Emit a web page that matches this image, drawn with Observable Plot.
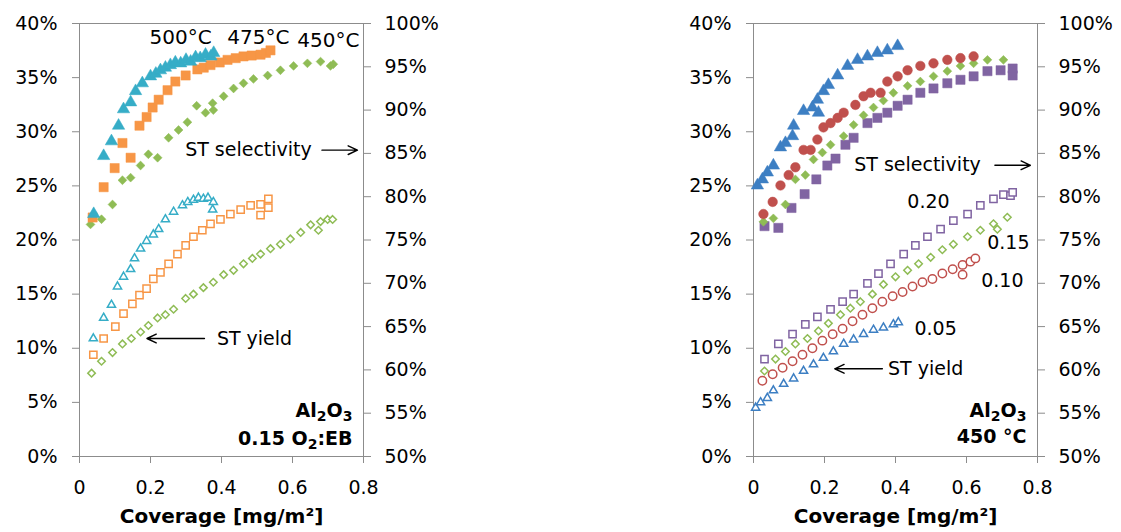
<!DOCTYPE html>
<html>
<head>
<meta charset="utf-8">
<script src="https://cdn.jsdelivr.net/npm/d3@7"></script>
<script src="https://cdn.jsdelivr.net/npm/@observablehq/plot@0.6"></script>
<style>
  html, body { margin: 0; padding: 0; background: #fff; }
  #wrap { display: flex; width: 1121px; height: 532px; }
  svg { display: block; }
</style>
</head>
<body>
<div id="wrap"></div>
<script>
// ---------- tick labels ----------
const leftTicks = [0, 5, 10, 15, 20, 25, 30, 35, 40];          // % (yield axis)
const rightTicks = [50, 55, 60, 65, 70, 75, 80, 85, 90, 95, 100]; // % (selectivity axis)
const xTicks = [0, 0.2, 0.4, 0.6, 0.8];
const xTitle = "Coverage [mg/m²]";

// ---------- Panel A: Al2O3, 0.15 O2:EB, temperatures ----------
// selectivity (right axis, %)
const covS500 = [0.040,0.068,0.090,0.110,0.124,0.144,0.158,0.177,0.200,0.215,0.228,0.242,0.256,0.270,0.285,0.300,0.313,0.327,0.340,0.355,0.370,0.378];
const selS500 = [78.0,84.7,86.4,88.2,90.1,90.9,92.2,93.1,93.9,94.2,94.6,94.9,95.2,95.5,95.4,95.8,95.6,96.1,96.0,96.4,96.2,96.6];
const covS475 = [0.037,0.068,0.099,0.121,0.144,0.169,0.189,0.206,0.223,0.248,0.270,0.299,0.332,0.350,0.369,0.395,0.417,0.440,0.462,0.485,0.510,0.525,0.538];
const selS475 = [77.6,81.1,83.3,86.2,84.5,88.2,89.2,90.3,91.2,92.3,93.3,94.0,94.7,94.9,95.2,95.5,95.8,96.0,96.2,96.3,96.4,96.6,96.9];
const covS450 = [0.031,0.062,0.093,0.121,0.144,0.172,0.194,0.220,0.251,0.279,0.304,0.330,0.355,0.377,0.375,0.406,0.434,0.462,0.490,0.530,0.566,0.603,0.642,0.679,0.707,0.715];
const selS450 = [76.8,77.4,79.1,81.9,82.2,83.6,84.9,84.5,86.8,87.7,88.6,90.5,89.7,90.0,90.8,91.6,92.5,93.1,93.6,94.0,94.6,95.1,95.4,95.6,95.1,95.3];
// yield (left axis, %)
const covY500 = [0.039,0.068,0.090,0.107,0.124,0.144,0.155,0.172,0.189,0.208,0.223,0.242,0.265,0.290,0.305,0.321,0.335,0.349,0.362,0.377,0.375];
const yldY500 = [10.9,12.8,14.0,15.7,16.6,17.3,18.3,19.2,19.9,20.5,21.0,21.9,22.6,23.2,23.5,23.7,23.9,23.8,23.9,23.5,22.8];
const covY475 = [0.039,0.068,0.101,0.124,0.149,0.169,0.189,0.208,0.228,0.251,0.276,0.299,0.321,0.346,0.369,0.397,0.425,0.454,0.482,0.510,0.532,0.510,0.532];
const yldY475 = [9.4,10.9,12.0,13.2,14.1,14.9,15.5,16.4,17.0,17.8,18.7,19.5,20.3,20.9,21.5,21.9,22.4,22.8,23.2,23.3,23.8,22.3,23.0];
const covY450 = [0.034,0.062,0.093,0.121,0.146,0.172,0.194,0.220,0.242,0.265,0.299,0.321,0.349,0.377,0.406,0.434,0.462,0.487,0.510,0.538,0.566,0.594,0.623,0.651,0.673,0.679,0.699,0.713];
const yldY450 = [7.7,8.8,9.6,10.4,10.9,11.5,12.1,12.8,13.1,13.6,14.6,15.0,15.6,16.1,16.8,17.2,17.8,18.3,18.7,19.2,19.6,20.1,20.7,21.4,20.9,21.7,21.9,21.9];

// ---------- Panel B: Al2O3, 450 °C, O2:EB ratios ----------
const covS05 = [0.011,0.025,0.039,0.056,0.076,0.090,0.110,0.113,0.141,0.166,0.183,0.180,0.197,0.211,0.237,0.265,0.293,0.321,0.349,0.377,0.406];
const selS05 = [81.3,82.0,82.8,83.6,85.7,86.2,87.0,88.2,89.9,90.3,89.7,91.2,92.2,92.9,94.0,95.1,95.8,96.2,96.6,96.9,97.4];
const covS10 = [0.028,0.054,0.076,0.099,0.118,0.141,0.161,0.180,0.197,0.217,0.237,0.254,0.287,0.310,0.330,0.358,0.377,0.406,0.434,0.470,0.507,0.546,0.583,0.620];
const selS10 = [78.0,79.4,81.3,82.5,83.4,85.4,85.4,86.6,88.0,88.5,89.1,89.7,90.6,91.6,92.0,92.0,93.3,93.9,94.6,95.1,95.4,95.8,96.0,96.2];
const covS15 = [0.028,0.056,0.090,0.118,0.146,0.169,0.194,0.217,0.254,0.282,0.310,0.338,0.366,0.394,0.434,0.470,0.507,0.546,0.583,0.620,0.659,0.704];
const selS15 = [77.1,77.5,79.1,82.0,82.5,84.3,85.1,86.0,87.0,88.3,89.4,90.3,91.1,92.0,92.8,93.3,93.9,94.5,95.1,95.4,95.8,95.8];
const covS20 = [0.031,0.070,0.107,0.144,0.177,0.208,0.231,0.259,0.282,0.321,0.349,0.377,0.406,0.434,0.470,0.507,0.546,0.583,0.620,0.659,0.696,0.730,0.730];
const selS20 = [76.6,76.4,78.7,80.3,82.0,83.6,84.4,86.0,86.8,88.5,89.1,89.7,90.5,91.2,92.0,92.5,93.1,93.5,93.9,94.5,94.6,94.0,94.8];
const covY05 = [0.006,0.020,0.039,0.056,0.085,0.113,0.141,0.169,0.197,0.225,0.254,0.282,0.310,0.338,0.366,0.394,0.408];
const yldY05 = [4.5,5.0,5.4,6.1,6.7,7.2,7.9,8.5,9.1,9.7,10.4,10.8,11.3,11.7,11.9,12.2,12.4];
const covY10 = [0.025,0.054,0.082,0.110,0.138,0.166,0.194,0.223,0.251,0.279,0.307,0.335,0.363,0.392,0.420,0.448,0.476,0.504,0.532,0.561,0.589,0.589,0.611,0.625];
const yldY10 = [7.0,7.6,8.2,8.8,9.4,10.0,10.7,11.3,11.8,12.5,13.1,13.7,14.3,14.8,15.2,15.7,16.1,16.4,16.9,17.3,17.7,16.8,18.0,18.3];
const covY15 = [0.031,0.062,0.090,0.118,0.152,0.183,0.211,0.245,0.273,0.301,0.335,0.366,0.400,0.434,0.465,0.499,0.532,0.563,0.603,0.639,0.676,0.687,0.715];
const yldY15 = [7.9,9.0,9.7,10.4,10.9,11.6,12.3,13.1,13.7,14.3,15.0,15.9,16.6,17.2,17.8,18.4,19.1,19.6,20.3,20.9,21.5,21.0,22.1];
const covY20 = [0.031,0.070,0.110,0.146,0.180,0.217,0.251,0.282,0.321,0.352,0.386,0.423,0.456,0.490,0.527,0.563,0.603,0.639,0.676,0.704,0.724,0.730];
const yldY20 = [9.0,10.4,11.3,12.2,12.9,13.6,14.3,15.0,16.0,16.9,17.8,18.7,19.5,20.3,21.0,21.8,22.4,23.2,23.8,24.2,24.1,24.4];

// ---------- helpers ----------
const selToY = s => (s - 50) / 125;   // right axis -> shared y scale
const yldToY = v => v / 100;
const sel = (xs, ys) => xs.map((x, i) => ({x, y: selToY(ys[i])}));
const yld = (xs, ys) => xs.map((x, i) => ({x, y: yldToY(ys[i])}));

const C = {teal: "#36adc7", orange: "#f79646", green: "#8fbc55", blue: "#3d7fc3", red: "#c0504d", purple: "#8064a2"};
const FONT = "DejaVu Sans";

const filled = (data, color, symbol, r) =>
  Plot.dot(data, {x: "x", y: "y", symbol, r, fill: color, stroke: color, strokeWidth: 0.5});
const hollow = (data, color, symbol, r) =>
  Plot.dot(data, {x: "x", y: "y", symbol, r, fill: "white", stroke: color, strokeWidth: 1.5});

function axes() {
  return [
    Plot.frame({stroke: "#8c8c8c"}),
    Plot.axisY({ticks: leftTicks.map(yldToY), tickFormat: d => Math.round(d * 100) + "%",
      tickSize: 7, tickPadding: 15, stroke: "#8c8c8c", fill: "black", label: null}),
    Plot.axisY({anchor: "right", ticks: rightTicks.map(selToY), tickFormat: d => Math.round(50 + d * 125) + "%",
      tickSize: 7, tickPadding: 14, stroke: "#8c8c8c", fill: "black", label: null}),
    Plot.axisX({ticks: xTicks, tickFormat: d => d === 0 ? "0" : d.toFixed(1),
      tickSize: 7, tickPadding: 17, stroke: "#8c8c8c", fill: "black", label: null}),
    Plot.text([xTitle], {frameAnchor: "bottom", dy: 66, fontWeight: "bold", fontSize: 20})
  ];
}

function base(width, marginLeft, marginRight, marks) {
  return Plot.plot({
    width, height: 532, marginLeft, marginRight, marginTop: 23, marginBottom: 76,
    style: {fontFamily: FONT, fontSize: "19px", color: "black", background: "white", overflow: "visible"},
    x: {domain: [0, 0.8]},
    y: {domain: [0, 0.4]},
    marks: [...axes(), ...marks]
  });
}

const arrowOpts = {stroke: "black", strokeWidth: 1.4, headLength: 11, headAngle: 50};
const labelOpts = {fontSize: 19, fill: "black"};

// Panel A
const plotA = base(560, 79, 197, [
  hollow(yld(covY450, yldY450), C.green, "diamond2", 3.4),
  hollow(yld(covY475, yldY475), C.orange, "square2", 4.6),
  hollow(yld(covY500, yldY500), C.teal, "triangle2", 3.9),
  filled(sel(covS450, selS450), C.green, "diamond2", 4.0),
  filled(sel(covS475, selS475), C.orange, "square", 5.2),
  filled(sel(covS500, selS500), C.teal, "triangle", 4.6),
  Plot.text([{x: 0.285, y: 0.387, t: "500°C"}, {x: 0.504, y: 0.387, t: "475°C"}, {x: 0.701, y: 0.384, t: "450°C"}],
    {x: "x", y: "y", text: "t", ...labelOpts, fontSize: 20}),
  Plot.text([{x: 0.476, y: 0.283, t: "ST selectivity"}], {x: "x", y: "y", text: "t", ...labelOpts}),
  Plot.arrow([{x1: 0.683, x2: 0.783, y: 0.283}], {x1: "x1", x2: "x2", y1: "y", y2: "y", ...arrowOpts}),
  Plot.text([{x: 0.493, y: 0.109, t: "ST yield"}], {x: "x", y: "y", text: "t", ...labelOpts}),
  Plot.arrow([{x1: 0.352, x2: 0.190, y: 0.109}], {x1: "x1", x2: "x2", y1: "y", y2: "y", ...arrowOpts}),
  Plot.text([{x: 0.769, y: 0.0425, t: "Al2O3"}, {x: 0.769, y: 0.0165, t: "0.15 O2:EB"}],
    {x: "x", y: "y", text: "t", textAnchor: "end", fontWeight: "bold", fontSize: 19, className: "chem"})
]);

// Panel B
const plotB = base(561, 193, 84, [
  hollow(yld(covY20, yldY20), C.purple, "square2", 4.6),
  hollow(yld(covY15, yldY15), C.green, "diamond2", 3.4),
  hollow(yld(covY10, yldY10), C.red, "circle", 4.2),
  hollow(yld(covY05, yldY05), C.blue, "triangle2", 3.9),
  filled(sel(covS20, selS20), C.purple, "square", 5.2),
  filled(sel(covS15, selS15), C.green, "diamond2", 4.0),
  filled(sel(covS10, selS10), C.red, "circle", 4.8),
  filled(sel(covS05, selS05), C.blue, "triangle", 4.6),
  Plot.text([{x: 0.462, y: 0.269, t: "ST selectivity"}], {x: "x", y: "y", text: "t", ...labelOpts}),
  Plot.arrow([{x1: 0.680, x2: 0.780, y: 0.269}], {x1: "x1", x2: "x2", y1: "y", y2: "y", ...arrowOpts}),
  Plot.text([{x: 0.493, y: 0.235, t: "0.20"}, {x: 0.718, y: 0.197, t: "0.15"}, {x: 0.701, y: 0.1625, t: "0.10"}, {x: 0.513, y: 0.118, t: "0.05"}],
    {x: "x", y: "y", text: "t", ...labelOpts}),
  Plot.text([{x: 0.485, y: 0.081, t: "ST yield"}], {x: "x", y: "y", text: "t", ...labelOpts}),
  Plot.arrow([{x1: 0.363, x2: 0.229, y: 0.081}], {x1: "x1", x2: "x2", y1: "y", y2: "y", ...arrowOpts}),
  Plot.text([{x: 0.769, y: 0.0425, t: "Al2O3"}, {x: 0.769, y: 0.0185, t: "450 °C"}],
    {x: "x", y: "y", text: "t", textAnchor: "end", fontWeight: "bold", fontSize: 19, className: "chem"})
]);

// chemical-formula subscripts as real tspans
const SUB = {"Al2O3": [["Al", 0], ["2", 1], ["O", 0], ["3", 1]], "0.15 O2:EB": [["0.15 O", 0], ["2", 1], [":EB", 0]]};
for (const svg of [plotA, plotB]) {
  svg.querySelectorAll(".chem text").forEach(node => {
    const parts = SUB[node.textContent];
    if (!parts) return;
    node.textContent = "";
    let shifted = false;
    for (const [s, sub] of parts) {
      const t = document.createElementNS("http://www.w3.org/2000/svg", "tspan");
      t.textContent = s;
      if (sub && !shifted) { t.setAttribute("dy", "4"); t.setAttribute("font-size", "14"); shifted = true; }
      else if (sub) { t.setAttribute("font-size", "14"); }
      else if (shifted) { t.setAttribute("dy", "-4"); shifted = false; }
      node.appendChild(t);
    }
  });
}

const wrap = document.getElementById("wrap");
wrap.append(plotA, plotB);
</script>
</body>
</html>
